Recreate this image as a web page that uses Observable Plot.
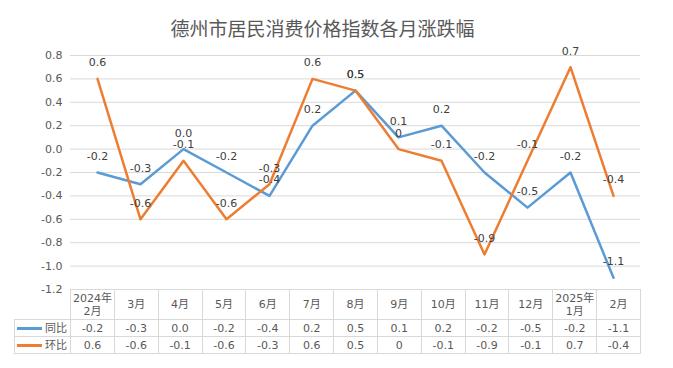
<!DOCTYPE html>
<html><head><meta charset="utf-8">
<script src="https://cdn.jsdelivr.net/npm/d3@7"></script>
<script src="https://cdn.jsdelivr.net/npm/@observablehq/plot@0.6"></script>
<style>
body{margin:0;background:#fff;}
#wrap{position:relative;width:673px;height:368px;overflow:hidden;font-family:"DejaVu Sans","Noto Sans CJK SC",sans-serif;}
#title{position:absolute;left:0;top:14px;width:645px;text-align:center;font-family:"Noto Sans CJK SC",sans-serif;font-size:19px;color:#595959;}
#chart{position:absolute;left:0;top:40px;}
#tbl{position:absolute;left:14px;top:289px;border-collapse:collapse;table-layout:fixed;font-size:11px;color:#595959;background:transparent;}
#tbl td{border:1px solid #d9d9d9;text-align:center;padding:0;line-height:13px;}
#tbl td.corner{border:none;}
.sw{display:inline-block;width:25px;height:3px;vertical-align:middle;margin-right:3px;}
</style></head>
<body><div id="wrap"><div id="title">德州市居民消费价格指数各月涨跌幅</div><div id="chart"></div><table id="tbl"></table></div>
<script>
const categories = ["2024年2月","3月","4月","5月","6月","7月","8月","9月","10月","11月","12月","2025年1月","2月"];
const seriesNames = ["同比","环比"];
const yoy = [-0.2,-0.3,0.0,-0.2,-0.4,0.2,0.5,0.1,0.2,-0.2,-0.5,-0.2,-1.1];
const mom = [0.6,-0.6,-0.1,-0.6,-0.3,0.6,0.5,0,-0.1,-0.9,-0.1,0.7,-0.4];
const yTicks = [-1.2,-1.0,-0.8,-0.6,-0.4,-0.2,0.0,0.2,0.4,0.6,0.8];
const colors = ["#5B9BD5","#ED7D31"];

const fmtYoy = v => v.toFixed(1);
const fmtMom = v => v === 0 ? "0" : v.toFixed(1);
const yoyData = categories.map((c,i)=>({cat:c, value:yoy[i], label:fmtYoy(yoy[i])}));
const momData = categories.map((c,i)=>({cat:c, value:mom[i], label:fmtMom(mom[i])}));

const chart = Plot.plot({
  width:673, height:264,
  marginLeft:70, marginRight:33, marginTop:15, marginBottom:15,
  style:{fontFamily:"DejaVu Sans, Noto Sans CJK SC, sans-serif", fontSize:"11px", background:"transparent"},
  x:{type:"point", domain:categories, padding:0.5, axis:null},
  y:{domain:[-1.2,0.8]},
  marks:[
    Plot.ruleY(yTicks, {stroke:"#d9d9d9", strokeWidth:1}),
    Plot.axisY(yTicks, {tickSize:0, tickPadding:8, tickFormat:d=>d.toFixed(1), fill:"#595959", fontSize:11, label:null}),
    Plot.line(yoyData, {x:"cat", y:"value", stroke:colors[0], strokeWidth:2.5}),
    Plot.line(momData, {x:"cat", y:"value", stroke:colors[1], strokeWidth:2.5}),
    Plot.text(yoyData, {x:"cat", y:"value", text:"label", dy:-16, fill:"#404040", fontSize:11}),
    Plot.text(momData, {x:"cat", y:"value", text:"label", dy:-16, fill:"#404040", fontSize:11})
  ]
});
document.getElementById("chart").appendChild(chart);

// data table
const tbl = document.getElementById("tbl");
const colW = 570/13;
let html = '<colgroup><col style="width:56px">' + categories.map(()=>`<col style="width:${colW}px">`).join("") + '</colgroup>';
html += '<tr style="height:30px"><td class="corner"></td>' + categories.map(c=>`<td>${c.replace("年","年<br>")}</td>`).join("") + '</tr>';
[[yoy,fmtYoy],[mom,fmtMom]].forEach(([vals,fmt],k)=>{
  html += `<tr style="height:17px"><td style="text-align:left;padding-left:2px;white-space:nowrap"><span class="sw" style="background:${colors[k]}"></span>${seriesNames[k]}</td>` + vals.map(v=>`<td>${fmt(v)}</td>`).join("") + '</tr>';
});
tbl.innerHTML = html;
tbl.style.width = (56+570)+"px";
</script></body></html>
